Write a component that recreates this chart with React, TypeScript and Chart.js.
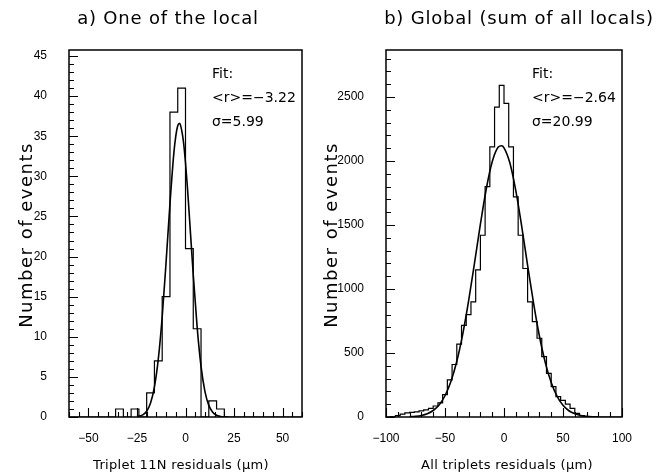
import React, { useEffect, useRef } from "react";
import { Chart, registerables } from "chart.js";

Chart.register(...registerables);

// ---------- Panel a) One of the local ----------
const titleA = "a) One of the local";
const xTitleA = "Triplet 11N residuals (\u03bcm)";
const binEdgesA = [-60, -56, -52, -48, -44, -40, -36, -32, -28, -24, -20, -16, -12, -8, -4, 0, 4, 8, 12, 16, 20, 24, 28, 32, 36, 40, 44, 48, 52, 56, 60];
const countsA = [0, 0, 0, 0, 0, 0, 1, 0, 1, 0, 3, 7, 15, 38, 41, 21, 11, 0, 2, 1, 0, 0, 0, 0, 0, 0, 0, 0, 0, 0];
const fitXA = [-25, -22, -20, -18, -16, -14, -12, -10, -8, -6, -5, -4, -3, -2, -1, 0, 1, 2, 4, 6, 8, 10, 12, 14, 16, 18, 20, 22];
const fitYA = [0.05, 0.27, 0.72, 1.74, 3.76, 7.24, 12.5, 19.3, 26.6, 32.9, 35.0, 36.3, 36.6, 35.8, 34.2, 31.7, 28.6, 25.0, 17.7, 11.2, 6.3, 3.2, 1.45, 0.59, 0.21, 0.07, 0.02, 0];
const xTicksA = [-50, -25, 0, 25, 50];
const yTicksA = [0, 5, 10, 15, 20, 25, 30, 35, 40, 45];
const fitTextA = ["Fit:", "<r>=\u22123.22", "\u03c3=5.99"];

// ---------- Panel b) Global ----------
const titleB = "b) Global (sum of all locals)";
const xTitleB = "All triplets residuals (\u03bcm)";
const binEdgesB = [-100, -96, -92, -88, -84, -80, -76, -72, -68, -64, -60, -56, -52, -48, -44, -40, -36, -32, -28, -24, -20, -16, -12, -8, -4, 0, 4, 8, 12, 16, 20, 24, 28, 32, 36, 40, 44, 48, 52, 56, 60, 64, 68, 72, 76, 80, 84, 88, 92, 96, 100];
const countsB = [0, 3, 10, 22, 32, 36, 40, 48, 55, 68, 86, 110, 175, 290, 410, 570, 715, 800, 900, 1150, 1420, 1800, 2110, 2420, 2590, 2450, 2110, 1720, 1420, 1160, 900, 745, 615, 471, 341, 237, 159, 130, 100, 68, 29, 10, 3, 0, 0, 0, 0, 0, 0, 0];
const fitXB = [-80, -75, -70, -65, -60, -55, -50, -45, -40, -35, -30, -25, -20, -15, -10, -5, -2, 0, 5, 10, 15, 20, 25, 30, 35, 40, 45, 50, 55, 60, 65, 70, 75, 80];
const fitYB = [2.4, 5.6, 12.3, 25.7, 50.7, 94, 166, 277, 435, 646, 907, 1202, 1506, 1783, 1994, 2107, 2119, 2103, 1984, 1768, 1490, 1185, 891, 633, 425, 269, 161, 91, 49, 25, 12, 5, 2, 1];
const xTicksB = [-100, -50, 0, 50, 100];
const yTicksB = [0, 500, 1000, 1500, 2000, 2500];
const fitTextB = ["Fit:", "<r>=\u22122.64", "\u03c3=20.99"];

const yTitle = "Number of events";

type Panel = {
  title: string;
  xTitle: string;
  edges: number[];
  counts: number[];
  fitX: number[];
  fitY: number[];
  xTicks: number[];
  yTicks: number[];
  fitText: string[];
  xMin: number;
  xMax: number;
  yMax: number;
  xMinor: number;
  xMajor: number;
  yMinor: number;
  yMajor: number;
  width: number;
  left: number;
  yAxisWidth: number;
  padRight: number;
  titleX: number;
  yTitleX: number;
  xTitleX: number;
  fitTextX: number;
};

const panelA: Panel = {
  title: titleA, xTitle: xTitleA, edges: binEdgesA, counts: countsA, fitX: fitXA, fitY: fitYA,
  xTicks: xTicksA, yTicks: yTicksA, fitText: fitTextA,
  xMin: -60, xMax: 60, yMax: 45.75, xMinor: 5, xMajor: 25, yMinor: 1, yMajor: 5,
  width: 320, left: 0, yAxisWidth: 69, padRight: 18,
  titleX: 168, yTitleX: 27, xTitleX: 181, fitTextX: 212,
};

const panelB: Panel = {
  title: titleB, xTitle: xTitleB, edges: binEdgesB, counts: countsB, fitX: fitXB, fitY: fitYB,
  xTicks: xTicksB, yTicks: yTicksB, fitText: fitTextB,
  xMin: -100, xMax: 100, yMax: 2867, xMinor: 10, xMajor: 50, yMinor: 100, yMajor: 500,
  width: 351, left: 320, yAxisWidth: 66, padRight: 49,
  titleX: 199, yTitleX: 12, xTitleX: 187, fitTextX: 212,
};

const fmt = (v: number) => (v < 0 ? "\u2212" + Math.abs(v) : String(v));

function makeChart(canvas: HTMLCanvasElement, p: Panel) {
  const histData = p.edges.map((e, i) => ({ x: e, y: p.counts[Math.min(i, p.counts.length - 1)] }));
  const fitData = p.fitX.map((x, i) => ({ x, y: p.fitY[i] }));

  const deco = {
    id: "deco",
    afterDraw(chart: any) {
      const ctx = chart.ctx as CanvasRenderingContext2D & { letterSpacing?: string };
      const ca = chart.chartArea;
      const xs = chart.scales.x;
      const ys = chart.scales.y;
      ctx.save();
      ctx.strokeStyle = "#000";
      ctx.lineWidth = 1.5;
      ctx.strokeRect(ca.left, ca.top, ca.right - ca.left, ca.bottom - ca.top);
      ctx.beginPath();
      ctx.lineWidth = 1.1;
      // y ticks (inward)
      for (let k = 0; k * p.yMinor <= p.yMax; k++) {
        const v = k * p.yMinor;
        const y = Math.round(ys.getPixelForValue(v)) + 0.5;
        const len = v % p.yMajor === 0 ? 9 : 5;
        ctx.moveTo(ca.left, y);
        ctx.lineTo(ca.left + len, y);
      }
      // x ticks (inward)
      for (let k = Math.ceil(p.xMin / p.xMinor); k * p.xMinor <= p.xMax; k++) {
        const v = k * p.xMinor;
        const x = Math.round(xs.getPixelForValue(v)) + 0.5;
        const len = v % p.xMajor === 0 ? 9 : 5;
        ctx.moveTo(x, ca.bottom);
        ctx.lineTo(x, ca.bottom - len);
      }
      ctx.stroke();

      ctx.fillStyle = "#000";
      // panel title
      ctx.textAlign = "center";
      ctx.textBaseline = "alphabetic";
      ctx.font = '18px "DejaVu Sans"';
      ctx.letterSpacing = "0.8px";
      ctx.fillText(p.title, p.titleX, 24);
      // x title
      ctx.font = '13px "DejaVu Sans"';
      ctx.letterSpacing = "0.3px";
      ctx.fillText(p.xTitle, p.xTitleX, 469);
      // fit text
      ctx.textAlign = "left";
      ctx.textBaseline = "middle";
      ctx.font = '14px "DejaVu Sans"';
      ctx.letterSpacing = "0px";
      p.fitText.forEach((t, i) => ctx.fillText(t, p.fitTextX, 74 + i * 24));
      // y title
      ctx.save();
      ctx.translate(p.yTitleX, 235);
      ctx.rotate(-Math.PI / 2);
      ctx.textAlign = "center";
      ctx.textBaseline = "middle";
      ctx.font = '18px "DejaVu Sans"';
      ctx.letterSpacing = "1.5px";
      ctx.fillText(yTitle, 0, 0);
      ctx.restore();
      ctx.letterSpacing = "0px";
      ctx.restore();
    },
  };

  return new Chart(canvas, {
    type: "line",
    data: {
      datasets: [
        { data: histData, stepped: "before", borderColor: "#000", borderWidth: 1.2, pointRadius: 0, fill: false },
        { data: fitData, cubicInterpolationMode: "monotone", borderColor: "#000", borderWidth: 1.6, pointRadius: 0, fill: false },
      ],
    } as any,
    options: {
      responsive: false,
      animation: false,
      events: [],
      layout: { padding: { top: 50, right: p.padRight, left: 0, bottom: 0 } },
      plugins: { legend: { display: false }, tooltip: { enabled: false }, title: { display: false } },
      scales: {
        x: {
          type: "linear",
          min: p.xMin,
          max: p.xMax,
          grid: { display: false },
          border: { display: false },
          afterBuildTicks: (s: any) => { s.ticks = p.xTicks.map((v) => ({ value: v })); },
          afterFit: (s: any) => { s.height = 56; },
          ticks: {
            padding: 6, autoSkip: false, maxRotation: 0, color: "#000",
            font: { family: '"Liberation Sans", Arial, sans-serif', size: 12 },
            callback: (v: any) => fmt(Number(v)),
          },
        },
        y: {
          type: "linear",
          min: 0,
          max: p.yMax,
          grid: { display: false },
          border: { display: false },
          afterBuildTicks: (s: any) => { s.ticks = p.yTicks.map((v) => ({ value: v })); },
          afterFit: (s: any) => { s.width = p.yAxisWidth; },
          ticks: {
            padding: 14, autoSkip: false, color: "#000",
            font: { family: '"Liberation Sans", Arial, sans-serif', size: 12 },
            callback: (v: any) => fmt(Number(v)),
          },
        },
      },
    } as any,
    plugins: [deco],
  });
}

function PanelChart({ p }: { p: Panel }) {
  const ref = useRef<HTMLCanvasElement | null>(null);
  useEffect(() => {
    if (!ref.current) return;
    const c = makeChart(ref.current, p);
    return () => c.destroy();
  }, [p]);
  return (
    <canvas
      ref={ref}
      width={p.width}
      height={473}
      style={{ position: "absolute", left: p.left, top: 0, width: p.width, height: 473, display: "block" }}
    />
  );
}

export default function App() {
  return (
    <div style={{ position: "absolute", left: 0, top: 0, width: 671, height: 473, background: "#fff" }}>
      <PanelChart p={panelA} />
      <PanelChart p={panelB} />
    </div>
  );
}
